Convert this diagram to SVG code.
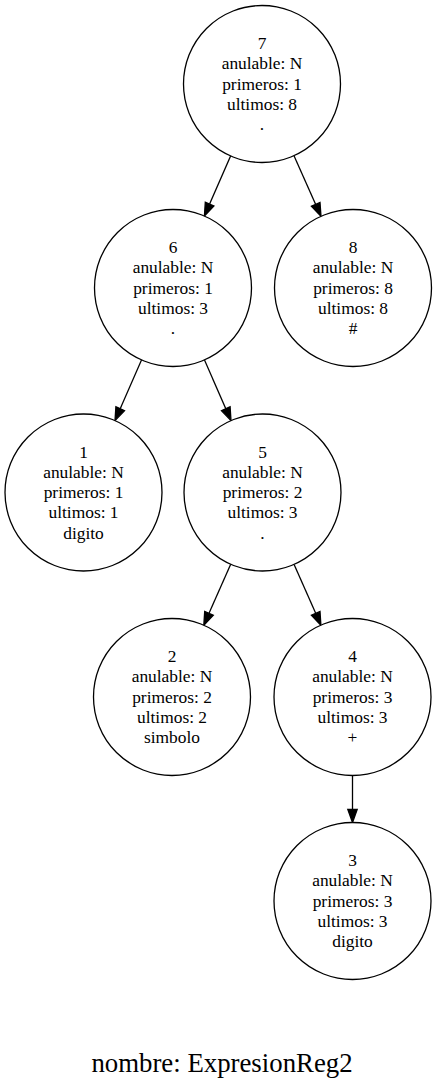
<svg xmlns="http://www.w3.org/2000/svg" width="437" height="1089" viewBox="0 0 437 1089">
  <style>
    .node circle { fill: #ffffff; stroke: #000000; stroke-width: 1.3; }
    .node text { font-family: "Liberation Serif", "Times New Roman", serif; font-size: 17.4px; fill: #000000; text-anchor: middle; }
    .edge line { stroke: #000000; stroke-width: 1.3; }
    .edge polygon { fill: #000000; stroke: #000000; stroke-width: 1.3; }
    .title { font-family: "Liberation Serif", "Times New Roman", serif; font-size: 26.8px; fill: #000000; text-anchor: middle; }
  </style>
  <rect width="437" height="1089" fill="#ffffff"/>

  <!-- connectors -->
  <g id="edges">
    <g class="edge" id="e7_6">
      <line x1="230.6" y1="156.0" x2="209.6" y2="204.1"/>
      <polygon points="204.4,216.05 213.9,206.0 205.3,202.2"/>
    </g>
    <g class="edge" id="e7_8">
      <line x1="294.0" y1="155.7" x2="315.7" y2="204.4"/>
      <polygon points="321.0,216.3 311.4,206.3 320.0,202.5"/>
    </g>
    <g class="edge" id="e6_1">
      <line x1="141.5" y1="359.9" x2="120.2" y2="408.7"/>
      <polygon points="115.0,420.6 124.5,410.6 115.9,406.8"/>
    </g>
    <g class="edge" id="e6_5">
      <line x1="204.5" y1="359.9" x2="225.8" y2="408.7"/>
      <polygon points="231.0,420.6 221.5,410.6 230.1,406.8"/>
    </g>
    <g class="edge" id="e5_2">
      <line x1="230.7" y1="564.3" x2="209.0" y2="613.3"/>
      <polygon points="203.8,625.2 213.3,615.2 204.7,611.4"/>
    </g>
    <g class="edge" id="e5_4">
      <line x1="294.1" y1="564.4" x2="315.7" y2="613.3"/>
      <polygon points="320.9,625.2 311.4,615.2 320.0,611.4"/>
    </g>
    <g class="edge" id="e4_3">
      <line x1="352.5" y1="775.5" x2="352.5" y2="809.5"/>
      <polygon points="352.5,822.5 347.8,809.5 357.2,809.5"/>
    </g>
  </g>

  <!-- nodes -->
  <g class="node" id="n7" transform="translate(262,84)">
    <circle r="78.5"/>
    <text y="-35">7</text>
    <text y="-14.7">anulable: N</text>
    <text y="5.6">primeros: 1</text>
    <text y="25.9">ultimos: 8</text>
    <text y="46.2">.</text>
  </g>
  <g class="node" id="n6" transform="translate(173,288)">
    <circle r="78.5"/>
    <text y="-35">6</text>
    <text y="-14.7">anulable: N</text>
    <text y="5.6">primeros: 1</text>
    <text y="25.9">ultimos: 3</text>
    <text y="46.2">.</text>
  </g>
  <g class="node" id="n8" transform="translate(353,288)">
    <circle r="78.5"/>
    <text y="-35">8</text>
    <text y="-14.7">anulable: N</text>
    <text y="5.6">primeros: 8</text>
    <text y="25.9">ultimos: 8</text>
    <text y="46.2">#</text>
  </g>
  <g class="node" id="n1" transform="translate(83.5,492.5)">
    <circle r="78.5"/>
    <text y="-35">1</text>
    <text y="-14.7">anulable: N</text>
    <text y="5.6">primeros: 1</text>
    <text y="25.9">ultimos: 1</text>
    <text y="46.2">digito</text>
  </g>
  <g class="node" id="n5" transform="translate(262.5,492.5)">
    <circle r="78.5"/>
    <text y="-35">5</text>
    <text y="-14.7">anulable: N</text>
    <text y="5.6">primeros: 2</text>
    <text y="25.9">ultimos: 3</text>
    <text y="46.2">.</text>
  </g>
  <g class="node" id="n2" transform="translate(172,697)">
    <circle r="78.5"/>
    <text y="-35">2</text>
    <text y="-14.7">anulable: N</text>
    <text y="5.6">primeros: 2</text>
    <text y="25.9">ultimos: 2</text>
    <text y="46.2">simbolo</text>
  </g>
  <g class="node" id="n4" transform="translate(352.5,697)">
    <circle r="78.5"/>
    <text y="-35">4</text>
    <text y="-14.7">anulable: N</text>
    <text y="5.6">primeros: 3</text>
    <text y="25.9">ultimos: 3</text>
    <text y="46.2">+</text>
  </g>
  <g class="node" id="n3" transform="translate(352.5,901)">
    <circle r="78.5"/>
    <text y="-35">3</text>
    <text y="-14.7">anulable: N</text>
    <text y="5.6">primeros: 3</text>
    <text y="25.9">ultimos: 3</text>
    <text y="46.2">digito</text>
  </g>

  <text class="title" x="222" y="1071.7">nombre: ExpresionReg2</text>
</svg>
